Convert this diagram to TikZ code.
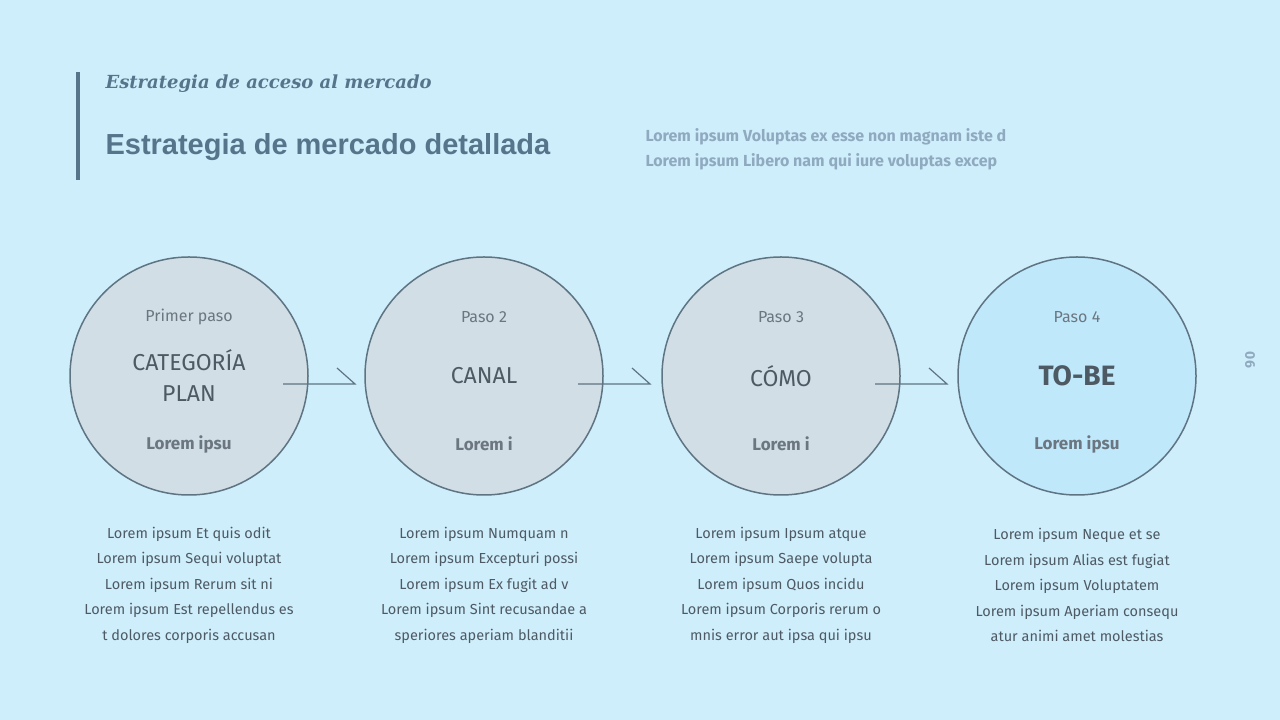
\documentclass[tikz,border=0pt]{standalone}
\usepackage{fontspec}
\setmainfont{Fira Sans}
\newfontfamily\ttl{Liberation Sans}
\newfontfamily\subt{DejaVu Serif}
\definecolor{bg}{HTML}{CFEEFC}
\definecolor{circ}{HTML}{D1DEE6}
\definecolor{circb}{HTML}{C0E8FB}
\definecolor{strk}{HTML}{5E7482}
\definecolor{ttlc}{HTML}{56758A}
\definecolor{light}{HTML}{8FA9BF}
\definecolor{txt}{HTML}{4E5A63}
\definecolor{smallc}{HTML}{6B7680}
\tikzset{
 stepcirc/.style={circle,draw=strk,line width=1.5pt,minimum size=238pt,fill=circ},
 lbl/.style={text=smallc,font=\fontsize{16}{18}\selectfont},
 big/.style={text=txt,font=\fontsize{23}{31}\selectfont,align=center},
 bot/.style={text=smallc,font=\fontsize{17}{19}\selectfont\bfseries},
 desc/.style={text=txt,font=\fontsize{14.5}{25.5}\selectfont,align=center},
 arr/.style={draw=strk,line width=1.2pt}
}
\begin{document}
\begin{tikzpicture}[x=1pt,y=1pt]
\fill[bg] (0,0) rectangle (1280,720);
\useasboundingbox (0,0) rectangle (1280,720);
\draw[ttlc,line width=4pt] (78,648) -- (78,540);
\node[anchor=west,text=ttlc,font=\subt\fontsize{18}{20}\selectfont\bfseries\itshape] (sub) at (102,636) {Estrategia de acceso al mercado};
\node[anchor=west,text=ttlc,font=\ttl\fontsize{29}{32}\selectfont\bfseries] (title) at (102,573) {Estrategia de mercado detallada};
\node[anchor=west,text=light,font=\fontsize{16}{25}\selectfont\bfseries,align=left] (intro) at (642,571) {Lorem ipsum Voluptas ex esse non magnam iste d\\Lorem ipsum Libero nam qui iure voluptas excep};
\node[rotate=-90,text=light,font=\fontsize{14}{16}\selectfont\bfseries] (pg) at (1250,360) {06};

\foreach \i/\x/\a/\b/\c/\f in {1/189/Primer paso/CATEGORÍA\\PLAN/Lorem ipsu/circ,2/484/Paso 2/CANAL/Lorem i/circ,3/781/Paso 3/CÓMO/Lorem i/circ,4/1077/Paso 4/{\textbf{\fontsize{28}{30}\selectfont TO-BE}}/Lorem ipsu/circb}{
 \node[stepcirc,fill=\f] (c\i) at (\x,344) {};
 \node[lbl] (l\i) at (\x,403) {\a};
 \node[big] (m\i) at (\x,344) {\b};
 \node[bot] (b\i) at (\x,276) {\c};
}
\node[desc] (d1) at (189,135) {Lorem ipsum Et quis odit\\Lorem ipsum Sequi voluptat\\Lorem ipsum Rerum sit ni\\Lorem ipsum Est repellendus es\\t dolores corporis accusan};
\node[desc] (d2) at (484,135) {Lorem ipsum Numquam n\\Lorem ipsum Excepturi possi\\Lorem ipsum Ex fugit ad v\\Lorem ipsum Sint recusandae a\\speriores aperiam blanditii};
\node[desc] (d3) at (781,135) {Lorem ipsum Ipsum atque\\Lorem ipsum Saepe volupta\\Lorem ipsum Quos incidu\\Lorem ipsum Corporis rerum o\\mnis error aut ipsa qui ipsu};
\node[desc] (d4) at (1077,135) {Lorem ipsum Neque et se\\Lorem ipsum Alias est fugiat\\Lorem ipsum Voluptatem\\Lorem ipsum Aperiam consequ\\atur animi amet molestias};

\foreach \s/\x in {1/283,2/578,3/875}{
 \coordinate (a\s) at (\x,336);
 \coordinate (e\s) at (\x+72,336);
 \coordinate (h\s) at (\x+54,352);
 \draw[arr] (a\s) -- (e\s) -- (h\s);
}
\end{tikzpicture}
\end{document}
